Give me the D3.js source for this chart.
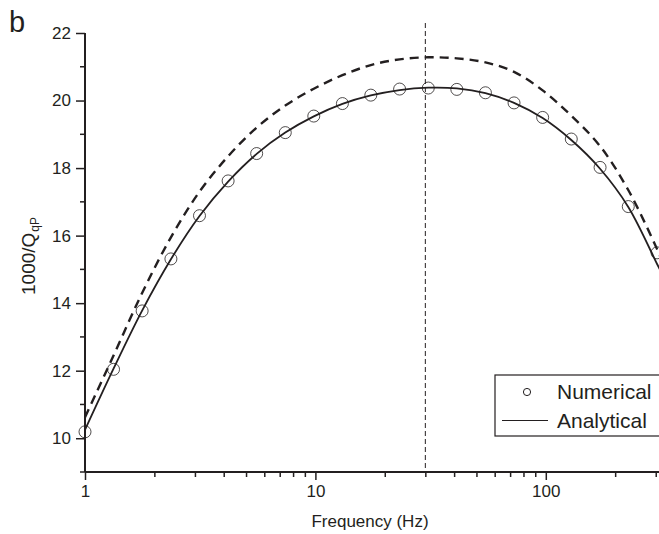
<!DOCTYPE html>
<html>
<head>
<meta charset="utf-8">
<script src="https://cdn.jsdelivr.net/npm/d3@7"></script>
<style>
  body { margin: 0; background: #fff; }
  svg { display: block; font-family: "Liberation Sans", Arial, sans-serif; }
</style>
</head>
<body>
<div id="chart"></div>
<script>
// numerical points (circles)
const numFreq = [1, 1.33, 1.77, 2.36, 3.14, 4.18, 5.56, 7.4, 9.84, 13.1, 17.4, 23.2, 30.9, 41.1, 54.7, 72.8, 96.9, 129, 172, 228, 304];
const numVal = [10.19, 12.04, 13.77, 15.31, 16.59, 17.62, 18.43, 19.05, 19.54, 19.91, 20.16, 20.34, 20.37, 20.33, 20.23, 19.93, 19.5, 18.86, 18.02, 16.86, 15.49];

// analytical (solid) curve
const anaFreq = [1, 1.33, 1.77, 2.36, 3.14, 4.18, 5.56, 7.4, 9.84, 13.1, 17.4, 23.2, 30.9, 41.1, 54.7, 72.8, 96.9, 129, 172, 228, 304, 315];
const anaVal = [10.25, 12.06, 13.78, 15.3, 16.58, 17.6, 18.42, 19.05, 19.53, 19.9, 20.15, 20.31, 20.38, 20.36, 20.22, 19.93, 19.48, 18.83, 17.98, 16.85, 15.16, 14.95];

// dashed curve
const dashFreq = [1, 1.33, 1.77, 2.36, 3.14, 4.18, 5.56, 7.4, 9.84, 13.1, 17.4, 23.2, 30.9, 41.1, 54.7, 72.8, 96.9, 129, 172, 228, 304, 315];
const dashVal = [10.62, 12.45, 14.3, 15.95, 17.3, 18.35, 19.2, 19.85, 20.35, 20.75, 21.05, 21.22, 21.28, 21.25, 21.13, 20.85, 20.3, 19.55, 18.65, 17.35, 15.6, 15.35];

const vlineFreq = 30;
const yMajor = [10, 12, 14, 16, 18, 20, 22];
const yMinor = [9, 11, 13, 15, 17, 19, 21];
const legendLabels = ["Numerical", "Analytical"];

const width = 659, height = 534;
const ink = "#231f20";

const svg = d3.select("#chart").append("svg")
    .attr("width", width)
    .attr("height", height);

const x = d3.scaleLog().domain([1, 315]).range([85, 85 + 230.4 * Math.log10(315)]);
const y = d3.scaleLinear().domain([9, 22]).range([472, 33]);

// vertical dashed marker
svg.append("line")
    .attr("x1", x(vlineFreq)).attr("x2", x(vlineFreq))
    .attr("y1", 23).attr("y2", y(9))
    .attr("stroke", ink).attr("stroke-width", 1)
    .attr("stroke-dasharray", "5,3");

const line = d3.line().curve(d3.curveCatmullRom);

// dashed curve
svg.append("path")
    .attr("d", line(dashFreq.map((f, i) => [x(f), y(dashVal[i])])))
    .attr("fill", "none").attr("stroke", ink)
    .attr("stroke-width", 2.4).attr("stroke-dasharray", "9,6");

// analytical solid curve
svg.append("path")
    .attr("d", line(anaFreq.map((f, i) => [x(f), y(anaVal[i])])))
    .attr("fill", "none").attr("stroke", ink)
    .attr("stroke-width", 1.8);

// numerical circles
svg.selectAll(".pt")
    .data(numFreq.map((f, i) => ({ f: f, v: numVal[i] })))
    .enter().append("circle")
    .attr("class", "pt")
    .attr("cx", d => x(d.f)).attr("cy", d => y(d.v))
    .attr("r", 6)
    .attr("fill", "none").attr("stroke", ink).attr("stroke-width", 0.8);

// axes
const xAxis = d3.axisBottom(x)
    .ticks(10)
    .tickSize(5)
    .tickFormat(() => "");
const gx = svg.append("g").attr("transform", "translate(0," + y(9) + ")").call(xAxis);
gx.select(".domain").attr("d", "M" + x(1) + ",0H" + width).attr("stroke-width", 2);
gx.selectAll(".tick line").attr("stroke-width", 1.5)
    .attr("y2", d => (Math.log10(d) % 1 === 0 ? 8 : 5));
gx.selectAll(".tick").filter(d => Math.log10(d) % 1 === 0)
    .select("text").text(d => d)
    .attr("y", 13).attr("dy", "0.71em")
    .attr("font-size", 17).attr("fill", ink);

const yAxis = d3.axisLeft(y).tickValues(yMajor).tickSize(9).tickPadding(5);
const gy = svg.append("g").attr("transform", "translate(" + x(1) + ",0)").call(yAxis);
gy.select(".domain").attr("d", "M0," + y(22) + "V" + y(9)).attr("stroke-width", 2);
gy.selectAll(".tick line").attr("stroke-width", 1.5);
gy.selectAll(".tick text").attr("font-size", 17).attr("fill", ink);
gy.selectAll(".minor").data(yMinor).enter().append("line")
    .attr("x1", -5).attr("x2", 0)
    .attr("y1", d => y(d)).attr("y2", d => y(d))
    .attr("stroke", ink).attr("stroke-width", 1.5);
svg.selectAll(".domain, .tick line").attr("stroke", ink);

// axis titles
svg.append("text")
    .attr("x", 370).attr("y", 527)
    .attr("text-anchor", "middle")
    .attr("font-size", 17).attr("fill", ink)
    .text("Frequency (Hz)");

const yt = svg.append("text")
    .attr("transform", "translate(35,256) rotate(-90)")
    .attr("text-anchor", "middle")
    .attr("font-size", 19).attr("fill", ink);
yt.append("tspan").text("1000/Q");
yt.append("tspan").attr("font-size", 12).attr("dy", 4).attr("dx", 1).text("qP");

// panel label
svg.append("text")
    .attr("x", 9).attr("y", 32)
    .attr("font-size", 29).attr("fill", ink)
    .text("b");

// legend
const lg = svg.append("g");
lg.append("rect")
    .attr("x", 495).attr("y", 375)
    .attr("width", 200).attr("height", 61)
    .attr("fill", "#fff").attr("stroke", ink).attr("stroke-width", 1.2);
lg.append("circle")
    .attr("cx", 527).attr("cy", 392).attr("r", 3.6)
    .attr("fill", "none").attr("stroke", ink).attr("stroke-width", 1);
lg.append("line")
    .attr("x1", 502).attr("x2", 548).attr("y1", 420.5).attr("y2", 420.5)
    .attr("stroke", ink).attr("stroke-width", 1.2);
lg.selectAll(".lt").data(legendLabels).enter().append("text")
    .attr("x", 557).attr("y", (d, i) => 399 + i * 29)
    .attr("font-size", 21).attr("fill", ink)
    .text(d => d);
</script>
</body>
</html>
